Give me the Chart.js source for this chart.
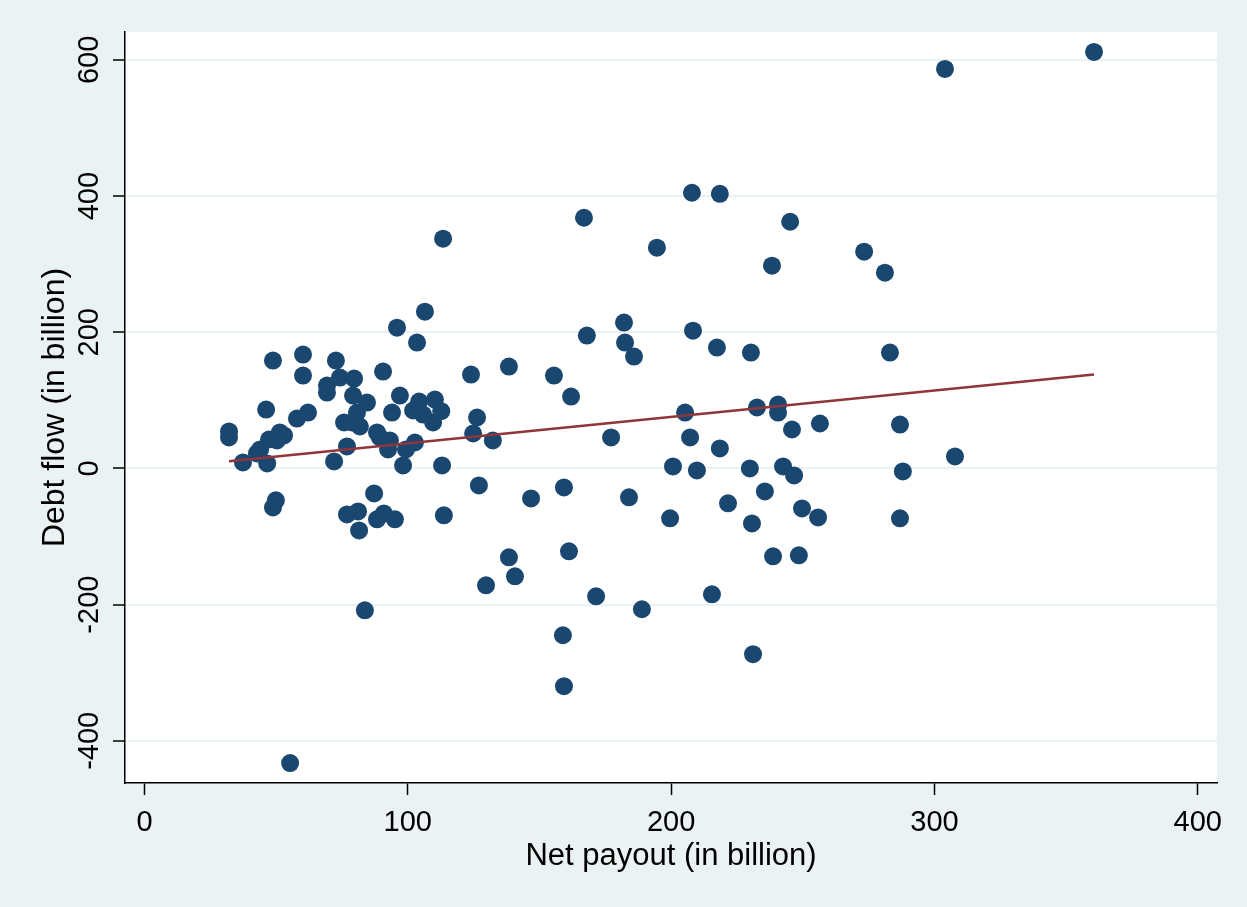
<!DOCTYPE html>
<html>
<head>
<meta charset="utf-8">
<script src="https://cdn.jsdelivr.net/npm/chart.js@4/dist/chart.umd.min.js"></script>
<style>
  html, body { margin: 0; padding: 0; background: #eaf2f3; }
  canvas { display: block; }
</style>
</head>
<body>
<canvas id="c" width="1247" height="907"></canvas>
<script>
// Net payout vs. debt flow, both in billion
const netPayout = [
  32.1, 32.1, 37.4, 42.7, 43.9, 46.2, 46.6, 47.3, 48.8, 48.8,
  49.9, 51.4, 50.3, 53.0, 55.3, 57.9, 60.2, 60.2, 62.1, 69.3,
  69.3, 72.0, 72.7, 74.2, 75.8, 76.9, 76.9, 79.2, 79.6, 78.8,
  80.7, 81.1, 81.5, 81.8, 83.7, 84.5, 87.2, 89.4, 88.3, 88.3,
  90.6, 90.9, 92.5, 93.2, 94.0, 95.1, 95.9, 97.0, 98.2, 99.3,
  102.0, 102.7, 103.5, 104.3, 105.8, 106.5, 109.6, 110.3, 112.7, 113.0,
  113.4, 113.7, 124.0, 124.8, 127.0, 126.3, 129.7, 132.3, 138.4, 138.4,
  140.7, 146.8, 155.5, 158.9, 159.3, 159.3, 161.2, 162.0, 166.9, 168.0,
  171.5, 177.2, 182.1, 182.5, 184.0, 185.9, 188.9, 194.6, 199.6, 200.7,
  205.3, 207.2, 207.9, 208.3, 209.8, 215.5, 217.4, 218.5, 218.5, 221.6,
  229.9, 230.3, 230.7, 231.1, 232.6, 235.6, 238.3, 238.7, 240.6, 240.6,
  242.5, 245.2, 245.9, 246.7, 248.5, 249.7, 255.8, 256.5, 273.3, 281.2,
  283.1, 286.9, 286.9, 288.0, 304.0, 307.8, 360.6
];
const debtFlow = [
  54.3, 45.5, 8.8, 22.0, 27.9, 86.5, 7.3, 42.5, 158.4, -57.2,
  -46.9, 52.8, 41.1, 48.4, -432.7, 73.3, 167.2, 136.4, 82.1, 121.8,
  111.5, 10.3, 158.4, 133.5, 67.5, -67.5, 32.3, 107.1, 132.0, 67.5,
  82.1, -63.1, -91.0, 61.6, -208.3, 96.8, -36.7, 45.5, -74.8, 52.8,
  142.3, -66.0, 27.9, 41.1, 82.1, -74.8, 206.8, 107.1, 4.4, 27.9,
  85.1, 38.1, 184.8, 98.3, 79.2, 230.3, 67.5, 101.2, 84.1, 4.4,
  337.4, -68.9, 137.9, 51.3, -24.9, 74.8, -171.6, 41.1, 149.6, -130.6,
  -158.4, -44.0, 136.4, -245.0, -27.9, -319.8, -121.8, 105.6, 368.2, 195.1,
  -187.8, 45.5, 214.2, 184.8, -42.5, 164.3, -206.8, 324.2, -73.3, 2.9,
  82.1, 45.5, 404.9, 202.4, -2.9, -184.8, 177.5, 29.3, 403.4, -51.3,
  0.0, 170.2, -80.7, -272.8, 89.5, -33.7, 297.8, -129.1, 93.9, 82.1,
  2.9, 362.3, 57.2, -10.3, -127.6, -58.7, -71.9, 66.0, 318.3, 287.5,
  170.2, 64.5, -73.3, -4.4, 586.8, 17.6, 611.7
];

// Fitted linear trend, endpoints at the smallest and largest payout
const fitPayout = [32.1, 360.6];
const fitDebt = [10.5, 138.0];

// Axis tick labels
const xTicks = [0, 100, 200, 300, 400];
const yTicks = [-400, -200, 0, 200, 400, 600];

const FONT = "'Liberation Sans', Arial, sans-serif";

const scatterPts = netPayout.map((x, i) => ({ x: x, y: debtFlow[i] }));
const fitPts = fitPayout.map((x, i) => ({ x: x, y: fitDebt[i] }));

// White plot region on the tinted page
const plotBg = {
  id: 'plotBg',
  beforeDraw(chart) {
    const { ctx, chartArea: a } = chart;
    ctx.save();
    ctx.fillStyle = '#ffffff';
    ctx.fillRect(a.left, a.top, a.right - a.left, a.bottom - a.top);
    ctx.restore();
  }
};

new Chart(document.getElementById('c'), {
  type: 'scatter',
  data: {
    datasets: [
      {
        type: 'line',
        data: fitPts,
        borderColor: '#90353b',
        borderWidth: 2.5,
        pointRadius: 0,
        fill: false,
        order: 0
      },
      {
        data: scatterPts,
        backgroundColor: '#1a476f',
        borderWidth: 0,
        pointRadius: 9,
        pointHoverRadius: 9,
        order: 1
      }
    ]
  },
  options: {
    responsive: false,
    animation: false,
    events: [],
    layout: { padding: { top: 32, right: 30, left: 0, bottom: 0 } },
    plugins: { legend: { display: false }, tooltip: { enabled: false } },
    scales: {
      x: {
        type: 'linear',
        min: -7.4,
        max: 407.3,
        afterBuildTicks: s => { s.ticks = xTicks.map(v => ({ value: v })); },
        afterFit: s => { s.height = 124; },
        grid: { drawOnChartArea: false, drawTicks: true, tickLength: 12, tickColor: '#000', tickWidth: 1.5 },
        border: { display: true, color: '#000', width: 1.5 },
        ticks: { color: '#000', font: { family: FONT, size: 29 }, padding: 11, maxRotation: 0, autoSkip: false },
        title: {
          display: true, text: 'Net payout (in billion)', color: '#000',
          font: { family: FONT, size: 31 }, padding: { top: 0, bottom: 32 }
        }
      },
      y: {
        type: 'linear',
        min: -462,
        max: 641,
        afterBuildTicks: s => { s.ticks = yTicks.map(v => ({ value: v })); },
        afterFit: s => { s.width = 125; },
        grid: { color: '#eaf2f3', lineWidth: 2, drawTicks: true, tickLength: 12, tickColor: '#000', tickWidth: 1.5 },
        border: { display: true, color: '#000', width: 1.5 },
        ticks: {
          color: '#000', font: { family: FONT, size: 29 }, padding: -6,
          minRotation: 90, maxRotation: 90, crossAlign: 'center', autoSkip: false
        },
        title: {
          display: true, text: 'Debt flow (in billion)', color: '#000',
          font: { family: FONT, size: 32 }, padding: { top: 36, bottom: 0 }
        }
      }
    }
  },
  plugins: [plotBg]
});
</script>
</body>
</html>
